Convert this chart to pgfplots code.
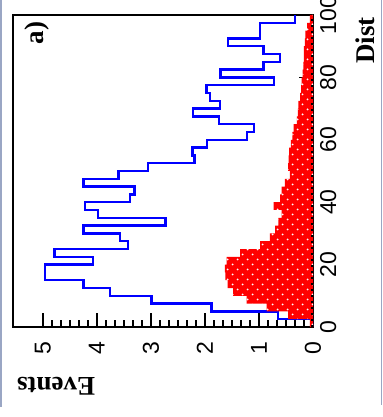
\documentclass[border=0pt]{standalone}
\usepackage{fontspec}
\setmainfont{Liberation Serif}
\setsansfont{Liberation Sans}
\usepackage{pgfplots}
\pgfplotsset{compat=1.18}
\usetikzlibrary{patterns.meta}
\definecolor{framecol}{HTML}{9AA6C4}
\tikzdeclarepattern{
  name=sparsedots,
  type=uncolored,
  bottom left={(-0.1pt,-0.1pt)},
  top right={(5.1pt,5.1pt)},
  tile size={(5pt,5pt)},
  code={\fill (1.25pt,1.25pt) circle (0.5pt); \fill (3.75pt,3.75pt) circle (0.5pt);}
}
\pgfplotstableread{
x y
0 0.0
2.5 0.65
5 1.88
7.5 2.99
10 3.76
12.5 4.25
15 4.96
17.5 4.96
20 4.07
22.5 4.78
25 3.42
27.5 3.57
30 4.25
32.5 2.73
35 3.98
37.5 4.22
40 3.39
42.5 3.30
45 4.25
47.5 3.60
50 3.05
52.5 2.19
55 2.23
57.5 1.96
60 1.22
62.5 1.09
65 1.74
67.5 2.22
70 1.72
72.5 1.91
75 1.97
77.5 0.72
80 1.71
82.5 0.92
85 0.61
87.5 0.92
90 1.57
92.5 0.98
95 0.98
97.5 0.33
100 0.33
}\bluehist
\pgfplotstableread{
x y
0 0.06
2.5 0.46
5 0.86
7.5 1.23
10 1.48
12.5 1.58
15 1.62
17.5 1.63
20 1.60
22.5 1.35
25 0.98
27.5 0.80
30 0.70
32.5 0.64
35 0.58
37.5 0.73
40 0.61
42.5 0.58
45 0.52
47.5 0.43
50 0.46
52.5 0.45
55 0.44
57.5 0.41
60 0.38
62.5 0.36
65 0.30
67.5 0.28
70 0.27
72.5 0.24
75 0.22
77.5 0.21
80 0.19
82.5 0.18
85 0.17
87.5 0.17
90 0.15
92.5 0.14
95 0.11
97.5 0.06
100 0.06
}\redhist
\begin{document}
\begin{tikzpicture}
\begin{scope}[transform canvas={rotate=90}]
\begin{axis}[
  at={(0,0)}, anchor=south west,
  scale only axis, width=156pt, height=150pt,
  xmin=0, xmax=100, ymin=0, ymax=5.55,
  xtick={0,20,...,100}, ytick={0,1,2,3,4,5},
  minor y tick num=5,
  tick pos=left, tick align=inside,
  major tick length=7pt, minor tick length=3.5pt,
  axis line style={line width=0.8pt},
  every tick/.style={black, line width=0.8pt},
  /pgf/number format/assume math mode=true,
  tick label style={font=\fontsize{11.5}{13}\sffamily},
  yticklabel style={xshift=-4pt},
  xlabel={Dist}, ylabel={Events},
  label style={font=\fontsize{13.5}{15}\bfseries},
  xlabel style={at={(axis description cs:1.016,-0.173)}, anchor=east},
  ylabel style={at={(axis description cs:-0.19,1.01)}, anchor=east},
]
\addplot[blue, line width=1.25pt, const plot] table[x=x,y=y] {\bluehist};
\addplot[draw=none, fill=red, const plot, postaction={pattern={sparsedots}, pattern color=white}] table[x=x,y=y] {\redhist} \closedcycle;
\addplot[black, dotted, line width=1pt] coordinates {(0,0.02) (100,0.02)};
\node[font=\fontsize{13.5}{15}\bfseries] at (axis description cs:0.942,0.92) {a)};
\end{axis}
\end{scope}
\pgfresetboundingbox
\path[use as bounding box] (-156.5pt,-45pt) rectangle (34.5pt,163.5pt);
\fill[framecol] (-156.5pt,163.5pt) rectangle (-155.3pt,-40pt);
\fill[framecol] (33.8pt,163.5pt) rectangle (34.3pt,-39pt);
\end{tikzpicture}
\end{document}
